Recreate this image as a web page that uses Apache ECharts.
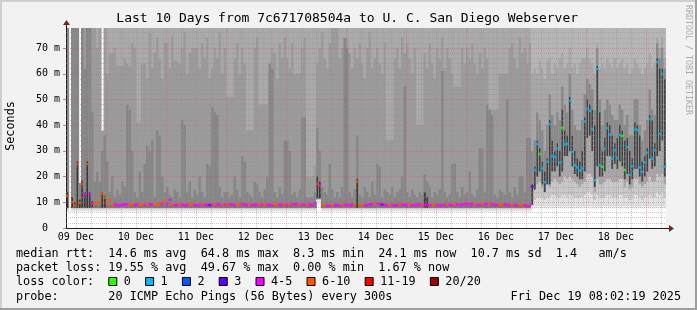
<!DOCTYPE html>
<html><head><meta charset="utf-8">
<script src="https://cdn.jsdelivr.net/npm/echarts@6/dist/echarts.min.js"></script>
<style>html,body{margin:0;padding:0;background:#f2f2f2}#c{width:697px;height:310px}</style>
</head><body><div id="c"></div>
<script>
// ---------- axis / tick data ----------
const START_H = 8.0386;   // Dec 9 08:02:19, hours after Dec 9 00:00
const END_H = 248.0386;   // Dec 19 08:02:19
const Y_MAX = 77.8;
const dayLabels = ['09 Dec','10 Dec','11 Dec','12 Dec','13 Dec','14 Dec','15 Dec','16 Dec','17 Dec','18 Dec'];
const dayLabelHours = [12,36,60,84,108,132,156,180,204,228];
const majorGridHours = [24,48,72,96,120,144,168,192,216,240];
const minorGridHours = [12,18,30,36,42,54,60,66,78,84,90,102,108,114,126,132,138,150,156,162,174,180,186,198,204,210,222,228,234,246];
const yMajor = [10,20,30,40,50,60,70];
const yMinor = [2,4,6,8,12,14,16,18,22,24,26,28,32,34,36,38,42,44,46,48,52,54,56,58,62,64,66,68,72,74,76];

// ---------- hourly median rtt (ms), 240 hours ----------
const median = [
 12.6,null,10.1,8.7,24.9,9.8,17.1,13.1,24.9,13.1,9.5,9.7,9.7,9.8,13.3,11.8,
 9.3,10.9,8.5,9.1,9.0,8.8,9.1,9.2,9.2,8.9,9.1,9.0,9.2,9.0,8.9,9.0,9.1,9.3,9.2,9.0,9.1,9.3,9.4,10.5,
 9.4,11.0,8.9,8.9,9.0,9.2,9.1,8.8,9.0,9.3,9.2,9.0,8.8,9.1,9.2,9.0,9.1,8.9,9.0,9.2,9.3,9.0,8.9,9.1,
 9.0,9.2,9.1,8.9,9.0,9.1,9.3,9.2,9.0,8.8,8.9,9.1,9.0,9.2,9.1,8.9,9.0,9.1,8.8,9.0,9.2,9.1,9.0,8.9,
 9.0,9.1,9.2,9.3,9.2,9.0,9.1,9.0,8.9,9.1,9.0,9.6,17.1,16.5,9.1,8.9,8.7,8.6,8.8,8.9,9.0,8.8,9.0,9.1,
 9.0,8.9,9.1,9.2,17.9,8.8,8.7,8.9,9.0,9.2,9.3,9.6,9.5,9.3,9.1,9.0,8.9,9.1,9.0,8.8,9.0,9.2,9.1,9.0,
 9.1,9.0,8.8,8.9,9.1,9.2,9.0,8.9,9.1,9.0,9.2,9.1,9.0,8.9,8.8,9.0,9.1,9.0,8.9,9.1,9.2,9.0,9.1,9.3,
 9.4,9.2,9.3,9.0,8.9,9.1,9.0,9.2,9.4,9.6,9.3,9.1,9.0,8.9,9.1,9.2,9.0,8.9,8.8,9.0,8.9,9.0,8.7,8.8,8.6,8.6,
 16.1,22.6,32.7,28.8,23.1,17.8,25.8,40.4,28.0,27.6,30.9,25.4,38.9,32.7,32.7,49.5,29.6,24.6,23.5,22.3,
 23.1,41.4,46.4,45.6,38.6,18.7,61.8,24.5,23.8,30.9,38.9,36.3,27.0,30.3,27.2,36.2,35.8,22.6,31.5,20.7,
 24.1,38.6,38.1,23.6,21.8,25.4,29.3,42.4,27.0,30.3,64.6,36.6,60.0,23.8
];
// ---------- hourly lost pings (of 20) ----------
const lost = [
 7,null,7,7,7,7,7,5,7,5,5,7,7,7,7,7,
 7,7,7,5,5,5,5,5,5,7,7,5,5,7,7,5,7,5,5,7,7,7,5,7,
 5,5,7,5,5,7,5,5,5,7,7,5,5,5,7,5,5,3,5,7,5,5,7,5,
 7,5,5,5,7,7,5,5,5,7,5,5,5,7,5,7,5,5,5,7,7,5,5,7,
 5,7,5,5,5,7,5,5,7,5,5,5,7,5,7,7,5,5,7,5,5,5,7,5,
 5,5,5,7,7,7,7,5,5,5,5,7,5,5,3,5,5,7,5,5,5,7,5,5,
 5,7,5,5,5,5,7,5,5,5,7,7,5,5,5,5,7,5,5,7,5,5,5,5,
 5,5,5,7,5,5,7,5,5,7,5,5,5,7,7,5,5,5,7,5,5,7,7,5,5,5,
 3,1,1,0,1,1,1,1,1,1,1,1,0,1,1,1,1,1,1,1,
 1,1,1,1,1,1,1,1,0,1,1,1,1,1,1,1,0,0,1,1,
 1,1,1,1,1,1,1,1,1,1,1,1,1,1
];
const lossLabels = ['0','1','2','3','4-5','6-10','11-19','20/20'];
const lossUpper  = [0,1,2,3,5,10,19,20];
const lossColors = ['#26ff00','#00b8ff','#0059ff','#5e00ff','#ff00ff','#ff5500','#ff0000','#a10000'];

// ---------- smoke, Dec 9 08:00 .. Dec 17 02:00 (hours 0..185) ----------
const aLo = [
 7.8,7.8,7.8,7.8,7.8,7.8,7.8,7.8,7.8,7.8,7.8,7.8,7.8,7.8,7.8,7.8,
 7.8,7.8,7.8,7.8,7.8,7.8,7.8,7.8,7.8,7.8,7.8,7.8,7.8,7.8,7.8,7.8,7.8,7.8,7.8,7.8,7.8,7.8,7.8,7.8,
 7.8,7.8,7.8,7.8,7.8,7.8,7.8,7.8,7.8,7.8,7.8,7.8,7.8,7.8,7.8,7.8,7.8,7.8,7.8,7.8,7.8,7.8,7.8,7.8,
 7.8,7.8,7.8,7.8,7.8,7.8,7.8,7.8,7.8,7.8,7.8,7.8,7.8,7.8,7.8,7.8,7.8,7.8,7.8,7.8,7.8,7.8,7.8,7.8,
 7.8,7.8,7.8,7.8,7.8,7.8,7.8,7.8,7.8,7.8,7.8,7.8,11.5,11.5,7.8,7.8,7.8,7.8,7.8,7.8,7.8,7.8,7.8,7.8,
 7.8,7.8,7.8,7.8,7.8,7.8,7.8,7.8,7.8,7.8,7.8,7.8,7.8,7.8,7.8,7.8,7.8,7.8,7.8,7.8,7.8,7.8,7.8,7.8,
 7.8,7.8,7.8,7.8,7.8,7.8,7.8,7.8,7.8,7.8,7.8,7.8,7.8,7.8,7.8,7.8,7.8,7.8,7.8,7.8,7.8,7.8,7.8,7.8,
 7.8,7.8,7.8,7.8,7.8,7.8,7.8,7.8,7.8,7.8,7.8,7.8,7.8,7.8,7.8,7.8,7.8,7.8,7.8,7.8,7.8,7.8,7.8,7.8,7.8,7.8
];
const aCore = [
 14,0,12,10,26,11,18.5,14,26,14,10.5,0,0,0,14,12.5,
 0,0,0,0,0,0,0,0,0,0,0,0,0,0,0,0,0,0,0,0,0,0,0,0,
 0,0,0,0,0,0,0,0,0,0,0,0,0,0,0,0,0,0,0,0,0,0,0,0,
 0,0,0,0,0,0,0,0,0,0,0,0,0,0,0,0,0,0,0,0,0,0,0,0,
 0,0,0,0,0,0,0,0,0,0,0,0,20,18,0,0,0,0,0,0,0,0,0,0,
 0,0,0,0,19,0,0,0,0,0,0,0,0,0,0,0,0,0,0,0,0,0,0,0,
 0,0,0,0,0,0,0,14,12,0,0,0,0,0,0,0,0,0,0,0,0,0,0,0,
 0,0,0,0,0,0,0,0,0,0,0,0,0,0,0,0,0,0,0,0,0,0,0,0,0,0
];
const aDark = [
 80,0,80,80,80,17.5,80,62,80,80,45,18,22,18,30,36,
 26,14,20,12,15,13,18,16,48,46,30,14,12,22,14,25,32,30,34,12,38,36,20,14,
 16,13,12,15,14,12,42,40,14,18,12,15,13,20,14,12,25,24,47,45,44,16,12,14,
 14,12,13,20,15,12,28,26,14,13,12,18,17,14,12,15,20,64,62,14,12,16,13,34,
 34,30,13,14,12,15,43,43,12,12,12,14,39,30,16,14,13,25,15,12,14,12,16,74,
 70,14,12,15,36,13,12,16,14,12,18,13,25,24,12,15,14,13,16,12,14,15,20,55,
 14,12,15,13,12,14,13,21,18,16,12,14,13,15,61,14,12,13,25,25,14,12,16,13,
 14,22,13,12,15,31,31,14,48,46,44,13,12,15,14,13,50,14,12,16,13,20,20,14,35,35
];
const aLight = [
 80,80,80,80,80,80,80,80,80,80,80,80,70,80,80,80,
 60,68,68,70,63,63,63,66,64,63,72,70,41,41,64,64,58,76,62,68,74,66,58,72,
 72,62,75,65,65,64,70,76,60,68,70,70,70,62,72,66,74,58,62,70,66,76,60,70,
 51,51,51,66,72,60,70,64,38,38,38,70,74,48,48,48,48,62,70,68,58,72,66,74,
 66,62,72,60,60,60,70,74,20,20,20,24,64,70,76,66,62,72,80,80,80,66,70,72,
 74,68,62,70,66,72,64,58,70,76,62,66,70,64,60,72,34,34,34,66,70,62,74,68,
 72,66,60,70,40,40,40,68,62,72,64,58,70,66,74,62,70,66,60,55,55,55,70,64,
 70,66,72,64,60,68,62,70,66,46,46,46,46,60,60,60,60,70,72,66,62,74,68,70,64,72
];
const aHi = [
 80,0,80,80,80,17.5,80,80,80,80,80,80,80,80,37.8,80,
 80,80,80,80,80,80,80,80,80,80,80,80,80,80,80,80,80,80,80,80,80,80,80,80,
 80,80,80,80,80,80,80,80,80,80,80,80,80,80,80,80,80,80,80,80,80,80,80,80,
 80,80,80,80,80,80,80,80,80,80,80,80,80,80,80,80,80,80,80,80,80,80,80,80,
 80,80,80,80,80,80,80,80,80,80,80,80,80,80,80,80,80,80,80,80,80,80,80,80,
 80,80,80,80,80,80,80,80,80,80,80,80,80,80,80,80,80,80,80,80,80,80,80,80,
 80,80,80,80,80,80,80,80,80,80,80,80,80,80,80,80,80,80,80,80,80,80,80,80,
 80,80,80,80,80,80,80,80,80,80,80,80,80,80,80,80,80,80,80,80,80,80,80,80,80,80
];

// ---------- smoke, Dec 17 02:00 .. Dec 19 08:00 (hours 186..239) ----------
const bLo = [8.8,8.8,8.8,8.8,8.8,8.8,8.8,8.8,8.8,8.8, 8.8,8.8,8.8,8.8,8.8,8.8,8.8,8.8,8.8,8.8, 8.8,8.8,8.8,8.8,8.8,8.8,8.8,8.8,8.8,8.8, 8.8,8.8,8.8,8.8,8.8,8.8,8.8,8.8,8.8,8.8, 8.8,8.8,8.8,8.8,8.8,8.8,8.8,8.8,8.8,8.8, 8.8,8.8,8.8,8.8];
const bF1 = [9,11,12,12,12,11,12,12,13,13, 12,12,13,13,12,13,13,12,12,12, 12,13,14,14,13,11,13,12,12,12, 13,13,12,12,12,13,13,12,12,11, 12,13,13,12,11,12,12,13,12,12, 14,13,14,12];
const bF2 = [9,15,17,18,16,14,17,16,18,19, 18,17,18,20,19,20,19,18,17,16, 17,18,21,21,20,14,19,17,17,18, 19,19,18,18,18,19,19,16,18,15, 16,19,19,17,16,17,18,20,18,18, 21,20,21,17];
const bCoreLo = [9,15,20,22,17,14,17,17,22,22, 24,20,22,28,28,30,24,21,20,19, 19,22,35,36,30,16,24,20,20,22, 28,28,23,25,23,26,24,19,21,17, 19,23,23,20,18,20,22,27,23,24, 28,30,34,20];
const bCoreHi = [17,24,34,31,26,22,27,42,34,30, 33,30,46,38,36,51,36,30,27,26, 30,43,50,48,46,40,63,45,30,35, 41,40,36,33,35,40,38,34,35,30, 27,41,40,36,26,28,31,44,42,33, 66,62,62,58];
const bDark = [30,34,45,42,38,30,40,52,44,40, 45,42,55,48,45,60,46,40,38,38, 42,52,58,56,54,46,70,50,40,46, 50,48,44,42,42,48,46,40,44,36, 36,50,50,40,34,38,42,54,46,44, 72,66,70,62];
const bLight = [60,62,60,65,62,58,65,66,60,64, 62,66,68,62,64,70,62,64,60,64, 66,66,70,66,64,60,72,62,64,62, 66,64,62,66,62,64,66,62,64,60, 62,66,64,62,60,62,64,68,62,64, 74,70,74,66];
const bHi = [80,80,80,80,80,80,80,80,80,80, 80,80,80,80,80,80,80,80,80,80, 80,80,80,80,80,80,80,80,80,80, 80,80,80,80,80,80,80,80,80,80, 80,80,80,80,80,80,80,80,80,80, 80,80,80,80];
const B_FIRST_HOUR = 186;

// ---------- build series data ----------
const smokeA = aLo.map((v, h) => [START_H + h + 0.5, v, aCore[h], aDark[h], aLight[h], aHi[h]]);
const smokeB = bLo.map((v, i) => [START_H + B_FIRST_HOUR + i + 0.5, v, bF1[i], bF2[i], bCoreLo[i], bCoreHi[i], bDark[i], bLight[i], bHi[i]]);
const medianPts = [];
median.forEach((m, h) => { if (m != null) medianPts.push([START_H + h + 0.5, m, lost[h]]); });
function lossColor(n) { for (let i = 0; i < lossUpper.length; i++) if (n <= lossUpper[i]) return lossColors[i]; return lossColors[lossColors.length - 1]; }

function makeAdder(api, xc, kids) {
  return (y0, y1, fill, frac) => {
    if (!(y1 > y0)) return;
    const f = frac || 1;
    const x0 = xc - 0.5 * f, x1 = xc + 0.5 * f;
    const a = api.coord([x0, y1]), b = api.coord([x1, y0]);
    kids.push({ type: 'rect', shape: { x: a[0], y: a[1], width: b[0] - a[0] + (f === 1 ? 0.6 : 0), height: b[1] - a[1] }, style: { fill: fill } });
  };
}
function renderA(params, api) {
  const kids = [];
  const lo = api.value(1), core = api.value(2), dark = api.value(3), light = api.value(4), hi = api.value(5);
  if (!(hi > lo)) return { type: 'group', children: kids };
  const add = makeAdder(api, api.value(0), kids);
  add(lo - 1.4, lo - 0.6, '#e6e6e6');
  add(lo - 0.6, lo, '#c9c9c9');
  add(lo, hi, '#9b9b9b');
  add(Math.max(light, lo), hi, '#aaaaaa');
  add(lo, Math.min(dark, hi), '#868686');
  add(lo, lo + 1.0, '#747474');
  add(lo, Math.min(core, hi), '#3a3a3a', 0.7);
  return { type: 'group', children: kids };
}
function renderB(params, api) {
  const kids = [];
  const lo = api.value(1), f1 = api.value(2), f2 = api.value(3), cLo = api.value(4), cHi = api.value(5),
        dark = api.value(6), light = api.value(7), hi = api.value(8);
  const add = makeAdder(api, api.value(0), kids);
  add(lo - 1.2, lo, '#ececec');
  add(lo, hi, '#a7a7a7');
  add(lo, f1, '#e2e2e2');
  add(f1, f2, '#c9c9c9');
  add(light, hi, '#b6b6b6');
  add(cLo, dark, '#8a8a8a');
  add(cLo, cHi, '#3c3c3c', 0.55);
  return { type: 'group', children: kids };
}

const FONT = '"DejaVu Sans Mono", monospace';
const minorStyle = { color: 'rgba(143,143,143,0.5)', width: 1, type: [1, 1] };
const majorStyle = { color: 'rgba(222,79,79,0.42)', width: 1, type: [1, 1] };
const gridMarks = []
  .concat(minorGridHours.map(v => ({ xAxis: v, lineStyle: minorStyle })))
  .concat(yMinor.map(v => ({ yAxis: v, lineStyle: minorStyle })))
  .concat(majorGridHours.map(v => ({ xAxis: v, lineStyle: majorStyle })))
  .concat(yMajor.map(v => ({ yAxis: v, lineStyle: majorStyle })));

// ---------- legend graphics ----------
const legendLines = [
  'median rtt:  14.6 ms avg  64.8 ms max  8.3 ms min  24.1 ms now  10.7 ms sd  1.4   am/s',
  'packet loss: 19.55 % avg  49.67 % max  0.00 % min  1.67 % now'
];
const probeText = 'probe:       20 ICMP Echo Pings (56 Bytes) every 300s';
const stampText = 'Fri Dec 19 08:02:19 2025';
const CH = 7.104;
function txt(x, y, s, font, extra) {
  return Object.assign({ type: 'text', x: x, y: y, silent: true,
    style: { text: s, font: font, fill: '#000', align: 'left', verticalAlign: 'middle', textAlign: 'left', textVerticalAlign: 'middle' } }, extra || {});
}
const LFONT = '11.8px ' + FONT;
const graphics = [
  { type: 'rect', shape: { x: 0, y: 0, width: 697, height: 2 }, style: { fill: '#cfcfcf' }, silent: true },
  { type: 'rect', shape: { x: 0, y: 0, width: 2, height: 310 }, style: { fill: '#cfcfcf' }, silent: true },
  { type: 'rect', shape: { x: 0, y: 308, width: 697, height: 2 }, style: { fill: '#9e9e9e' }, silent: true },
  { type: 'rect', shape: { x: 695, y: 0, width: 2, height: 310 }, style: { fill: '#9e9e9e' }, silent: true },
  { type: 'text', x: 347.2, y: 18.5, silent: true, style: { text: 'Last 10 Days from 7c671708504a to U. C. San Diego Webserver', font: '13px ' + FONT, fill: '#000', align: 'center', verticalAlign: 'middle', textAlign: 'center', textVerticalAlign: 'middle' } },
  { type: 'text', x: 11, y: 126, rotation: Math.PI / 2, silent: true, style: { text: 'Seconds', font: '11.8px ' + FONT, fill: '#000', align: 'center', verticalAlign: 'middle', textAlign: 'center', textVerticalAlign: 'middle' } },
  { type: 'text', x: 688, y: 60, rotation: -Math.PI / 2, silent: true, style: { text: 'RRDTOOL / TOBI OETIKER', font: '8.3px ' + FONT, fill: '#ababab', align: 'center', verticalAlign: 'middle', textAlign: 'center', textVerticalAlign: 'middle' } },
  { type: 'line', shape: { x1: 666, y1: 228.5, x2: 670, y2: 228.5 }, style: { stroke: '#1f1f1f', lineWidth: 1 }, silent: true },
  { type: 'polygon', shape: { points: [[669, 225], [674, 228.5], [669, 232]] }, style: { fill: '#7f1f1f' }, silent: true },
  { type: 'line', shape: { x1: 66.5, y1: 28, x2: 66.5, y2: 24 }, style: { stroke: '#1f1f1f', lineWidth: 1 }, silent: true },
  { type: 'polygon', shape: { points: [[63, 25], [66.5, 20], [70, 25]] }, style: { fill: '#7f1f1f' }, silent: true },
  txt(16, 254, legendLines[0], LFONT),
  txt(16, 268.2, legendLines[1], LFONT),
  txt(16, 282.2, 'loss color:', LFONT),
  txt(16, 296.5, probeText, LFONT),
  { type: 'text', x: 681, y: 296.5, silent: true, style: { text: stampText, font: LFONT, fill: '#000', align: 'right', verticalAlign: 'middle', textAlign: 'right', textVerticalAlign: 'middle' } }
];
let bx = 108.3;
lossLabels.forEach((lab, i) => {
  graphics.push({ type: 'rect', shape: { x: bx + 0.5, y: 277.5, width: 8, height: 8 }, style: { fill: lossColors[i], stroke: '#000', lineWidth: 1 }, silent: true });
  graphics.push(txt(bx + 15.5, 282.2, lab, LFONT));
  bx = bx + 15.5 + lab.length * CH + 14.2;
});

const chart = echarts.init(document.getElementById('c'), null, { renderer: 'canvas' });
chart.setOption({
  backgroundColor: '#f2f2f2',
  animation: false,
  grid: { left: 66, top: 28, width: 600, height: 200, show: true, backgroundColor: '#ffffff', borderWidth: 0, containLabel: false, outerBoundsMode: 'none' },
  xAxis: {
    type: 'value', min: START_H, max: END_H, z: 3,
    axisLine: { show: true, lineStyle: { color: '#1f1f1f', width: 1 } },
    axisTick: { show: false }, splitLine: { show: false }, minorSplitLine: { show: false },
    axisLabel: { customValues: dayLabelHours, formatter: v => dayLabels[dayLabelHours.indexOf(Math.round(v))] || '', fontFamily: 'DejaVu Sans Mono', fontSize: 10, color: '#000', margin: 4 }
  },
  yAxis: {
    type: 'value', min: 0, max: Y_MAX, interval: 10, z: 3,
    axisLine: { show: true, lineStyle: { color: '#1f1f1f', width: 1 } },
    axisTick: { show: true, length: 3, lineStyle: { color: '#8f8f8f' } },
    splitLine: { show: false },
    axisLabel: { showMaxLabel: false, formatter: v => (v === 0 ? '0  ' : (Math.abs(v % 10) < 1e-9 ? v + ' m' : '')), fontFamily: 'DejaVu Sans Mono', fontSize: 10, color: '#000', margin: 6 }
  },
  graphic: { elements: graphics },
  series: [
    { type: 'custom', name: 'smokeA', data: smokeA, renderItem: renderA, clip: true, z: 1, silent: true, encode: { x: 0, y: 1 } },
    { type: 'custom', name: 'smokeB', data: smokeB, renderItem: renderB, clip: true, z: 1, silent: true, encode: { x: 0, y: 1 } },
    { type: 'line', name: 'grid', data: [], z: 4, silent: true, showSymbol: false,
      markLine: { silent: true, symbol: ['none', 'none'], animation: false, label: { show: false }, emphasis: { disabled: true }, data: gridMarks } },
    { type: 'scatter', name: 'median', data: medianPts, z: 6, silent: true, symbol: 'rect', symbolSize: [3, 2.6],
      itemStyle: { color: p => lossColor(p.value[2]) }, encode: { x: 0, y: 1 } }
  ]
});
</script>
</body></html>
